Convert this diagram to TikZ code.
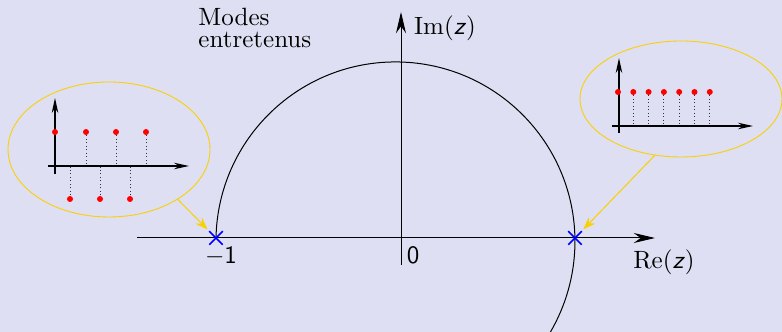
\documentclass[tikz,border=0pt]{standalone}
\usepackage{tikz}
\usetikzlibrary{arrows.meta,shapes.geometric,shapes.misc}
\definecolor{fond}{RGB}{222,223,242}
\definecolor{jaune}{RGB}{250,208,0}

\begin{document}
\begin{tikzpicture}[x=0.4pt, y=0.4pt,
    bulle/.style={ellipse, draw=jaune, line width=0.35pt, inner sep=0pt},
    croix/.style={cross out, draw=blue, line width=0.6pt, minimum size=4.8pt, inner sep=0pt},
    zoomfleche/.style={draw=jaune, fill=jaune, line width=0.4pt, -{Stealth[length=5pt,width=3.6pt]}, shorten >=1pt},
    pointrouge/.style={circle, fill=red, inner sep=0pt, minimum size=2.4pt},
    tige/.style={densely dotted, black!80},
    petitaxe/.style={line width=0.5pt, -{Stealth[length=6pt,width=2.6pt]}},
    grandaxe/.style={line width=0.4pt, -{Stealth[length=8.5pt,width=4pt]}}]

    % fond
    \path[use as bounding box, fill=fond] (0,0) rectangle (782,332);

    % axes du plan complexe
    \draw[grandaxe] (137,94) -- (655,94);
    \draw[grandaxe] (401,67) -- (401,320);
    \node (imz) at (445,304) {$\mathrm{Im}(\textsf{\textit{z}})$};
    \node (rez) at (664,70) {$\mathrm{Re}(\textsf{\textit{z}})$};
    \node (zero) at (413,77) {\textsf{0}};
    \node (moinsun) at (221,76) {$-\mathsf{1}$};

    % lieu des poles
    \draw[line width=0.4pt] (216,94) arc[start angle=178.9, end angle=-30.3, radius=179.5];

    \node[anchor=north west, inner sep=0pt, align=left] (modes) at (198,324) {Modes\\[-3.2pt]entretenus};

    % poles sur l'axe reel
    \node[croix] (croixG) at (216,94) {};
    \node[croix] (croixD) at (575,94) {};

    % bulle de gauche : suite alternee
    \node[bulle, minimum width=80.8pt, minimum height=54pt] (bulleG) at (109,182.5) {};
    \foreach \x in {86,116,146} {
        \draw[tige] (\x,200) -- (\x,167);
    }
    \foreach \x in {70,100,130} {
        \draw[tige] (\x,133) -- (\x,165);
    }
    \draw[petitaxe] (48,166) -- (189,166);
    \draw[petitaxe] (55,158) -- (55,234);
    \foreach \x in {55,86,116,146} {
        \node[pointrouge] (g\x) at (\x,200) {};
    }
    \foreach \x in {70,100,130} {
        \node[pointrouge] (h\x) at (\x,133) {};
    }

    % bulle de droite : suite constante
    \node[bulle, minimum width=80.8pt, minimum height=46.4pt] (bulleD) at (681,233) {};
    \foreach \k in {1,...,6} {
        \draw[tige] ({618+15.3*\k},240) -- ({618+15.3*\k},207);
    }
    \draw[petitaxe] (612,206) -- (753,206);
    \draw[petitaxe] (619,199) -- (619,274);
    \foreach \k in {0,...,6} {
        \node[pointrouge] (d\k) at ({618+15.3*\k},240) {};
    }

    % fleches de zoom
    \draw[zoomfleche] (bulleG.-36) -- (croixG);
    \draw[zoomfleche] (bulleD.245) -- (croixD);
\end{tikzpicture}
\end{document}
